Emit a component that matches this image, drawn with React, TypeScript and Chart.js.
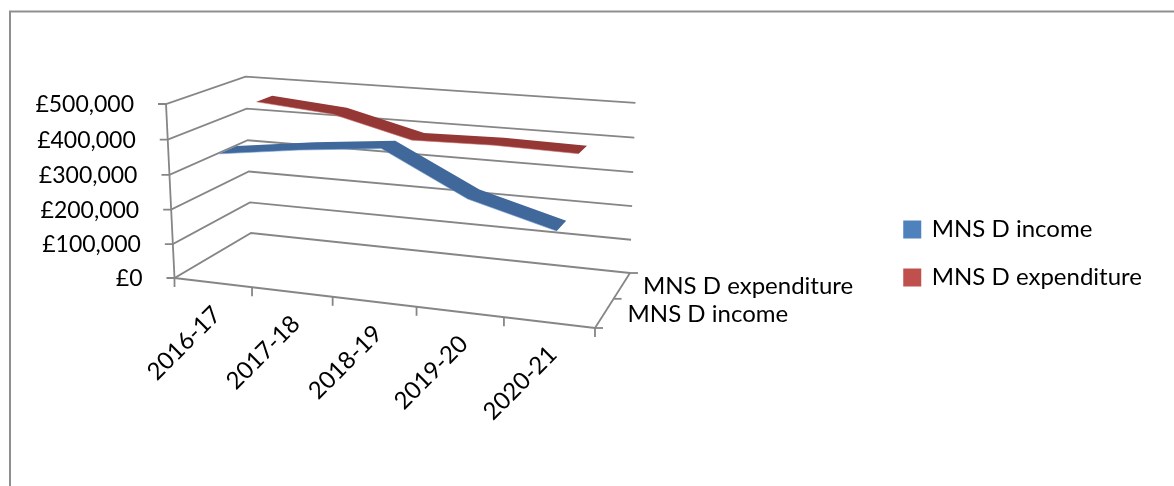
import React, { useEffect, useRef } from "react";
import { Chart, registerables } from "chart.js";

Chart.register(...registerables);

const categories = ["2016-17", "2017-18", "2018-19", "2019-20", "2020-21"];
const incomeValues = [355000, 385000, 408000, 291000, 227000];
const expenditureValues = [460000, 440000, 382000, 386000, 381000];
const seriesNames = ["MNS D income", "MNS D expenditure"];
const seriesDepths = [0.25, 0.75];
const depthTicks = [0, 0.5, 1];
const valueTicks = [0, 100000, 200000, 300000, 400000, 500000];

const FONT = "Lato, sans-serif";
const AXIS_GREY = "#868686";
const RIBBON_FILL = ["#41689b", "#943735"];
const RIBBON_EDGE = ["#6f9bd1", "#cf7a77"];
const RIBBON_HALF_DEPTH = 0.11;

// Perspective box: corners of the 3D plot in canvas space and their homogeneous weights.
const ORIGIN = { x: 174.5, y: 278 };
const X_END = { x: 595, y: 328 };
const Y_END = { x: 166, y: 104 };
const Z_END = { x: 251, y: 233 };
const WX = 0.9043;
const WY = 0.97;
const WZ = 1.1184;

function project(u: number, v: number, w: number) {
  const den = 1 + u * (WX - 1) + v * (WY - 1) + w * (WZ - 1);
  const along = (k: "x" | "y") =>
    (ORIGIN[k] +
      u * (WX * X_END[k] - ORIGIN[k]) +
      v * (WY * Y_END[k] - ORIGIN[k]) +
      w * (WZ * Z_END[k] - ORIGIN[k])) /
    den;
  return { x: along("x"), y: along("y") };
}

function segment(ctx: CanvasRenderingContext2D, a: { x: number; y: number }, b: { x: number; y: number }) {
  ctx.beginPath();
  ctx.moveTo(a.x, a.y);
  ctx.lineTo(b.x, b.y);
  ctx.stroke();
}

const perspectiveBox = {
  id: "perspectiveBox",
  beforeDatasetsDraw(chart: any) {
    const { ctx } = chart;
    const yScale = chart.scales.y;
    const area = chart.chartArea;
    const n = categories.length;
    const toV = (value: number) => (area.bottom - yScale.getPixelForValue(value)) / area.height;

    ctx.save();
    // Outer chart frame, running off the page to the right and bottom.
    ctx.strokeStyle = "#8f8f8f";
    ctx.lineWidth = 2;
    ctx.beginPath();
    ctx.moveTo(10, 487);
    ctx.lineTo(10, 11.5);
    ctx.lineTo(1175, 11.5);
    ctx.stroke();

    ctx.strokeStyle = AXIS_GREY;
    ctx.lineWidth = 1.8;
    ctx.fillStyle = "#000";
    ctx.font = `23px ${FONT}`;

    // Gridlines over the side and back walls, with value labels at the front edge.
    ctx.textAlign = "right";
    ctx.textBaseline = "middle";
    for (const tick of valueTicks) {
      const v = toV(tick);
      const front = project(0, v, 0);
      const corner = project(0, v, 1);
      const far = project(1, v, 1);
      ctx.beginPath();
      ctx.moveTo(front.x - 8, front.y);
      ctx.lineTo(front.x, front.y);
      ctx.lineTo(corner.x, corner.y);
      ctx.lineTo(far.x, far.y);
      ctx.stroke();
      ctx.fillText("£" + tick.toLocaleString("en-GB"), front.x - 32, front.y + 1);
    }

    // Vertical value axis, front floor edge and right floor edge.
    segment(ctx, project(0, 0, 0), project(0, 1, 0));
    segment(ctx, project(0, 0, 0), project(1, 0, 0));
    segment(ctx, project(1, 0, 0), project(1, 0, 1));

    // Category ticks and rotated labels.
    for (let i = 0; i <= n; i++) {
      const p = project(i / n, 0, 0);
      segment(ctx, p, { x: p.x, y: p.y + 9 });
    }
    ctx.font = `24px ${FONT}`;
    categories.forEach((label, i) => {
      const p = project((i + 0.5) / n, 0, 0);
      ctx.save();
      ctx.translate(p.x + 4, p.y + 28);
      ctx.rotate(-Math.PI / 4);
      ctx.textAlign = "right";
      ctx.textBaseline = "middle";
      ctx.fillText(label, 0, 0);
      ctx.restore();
    });

    // Depth axis ticks and series names.
    for (const w of depthTicks) {
      const p = project(1, 0, w);
      segment(ctx, p, { x: p.x + 8, y: p.y });
    }
    ctx.textAlign = "left";
    seriesNames.forEach((name, i) => {
      const p = project(1, 0, seriesDepths[i]);
      ctx.fillText(name, p.x + 23 - i * 2, p.y + 1);
    });
    ctx.restore();
  },
  // Each series is drawn as a flat ribbon lying across its depth band.
  beforeDatasetDraw(chart: any, args: any) {
    const { ctx } = chart;
    const index = args.index;
    const xScale = chart.scales.x;
    const yScale = chart.scales.y;
    const area = chart.chartArea;
    const values = chart.data.datasets[index].data as number[];
    const w = seriesDepths[index];
    const at = (i: number, depth: number) =>
      project(
        (xScale.getPixelForValue(i) - area.left) / area.width,
        (area.bottom - yScale.getPixelForValue(values[i])) / area.height,
        depth
      );
    const front = values.map((_, i) => at(i, w - RIBBON_HALF_DEPTH));
    const back = values.map((_, i) => at(i, w + RIBBON_HALF_DEPTH));
    const outline = [...front, ...back.reverse()];

    ctx.save();
    ctx.lineJoin = "round";
    ctx.fillStyle = RIBBON_FILL[index];
    ctx.beginPath();
    outline.forEach((p, i) => (i ? ctx.lineTo(p.x, p.y) : ctx.moveTo(p.x, p.y)));
    ctx.closePath();
    ctx.fill();

    // Lighter rim along the front edge of the ribbon.
    ctx.strokeStyle = RIBBON_EDGE[index];
    ctx.lineWidth = 0.6;
    ctx.beginPath();
    front.forEach((p, i) => (i ? ctx.lineTo(p.x, p.y) : ctx.moveTo(p.x, p.y)));
    ctx.stroke();
    ctx.restore();
    return false;
  },
};

export default function App() {
  const ref = useRef<HTMLCanvasElement>(null);

  useEffect(() => {
    const chart = new Chart(ref.current!, {
      type: "line",
      data: {
        labels: categories,
        datasets: [
          { label: seriesNames[0], data: incomeValues, backgroundColor: "#4f81bd", borderColor: "#4f81bd" },
          { label: seriesNames[1], data: expenditureValues, backgroundColor: "#c0504d", borderColor: "#c0504d" },
        ],
      },
      plugins: [perspectiveBox],
      options: {
        responsive: false,
        animation: false,
        devicePixelRatio: 1,
        events: [],
        layout: { padding: { top: 21, bottom: 0, left: 20, right: 22 } },
        scales: {
          x: { display: false, offset: true },
          y: { display: false, min: 0, max: 500000 },
        },
        plugins: {
          tooltip: { enabled: false },
          legend: {
            position: "right",
            labels: {
              boxWidth: 15,
              boxHeight: 15,
              padding: 24,
              color: "#000",
              font: { family: FONT, size: 24 },
            },
          },
        },
      },
    } as any);
    return () => chart.destroy();
  }, []);

  return (
    <div style={{ position: "fixed", left: 0, top: 0, background: "#fff" }}>
      <canvas ref={ref} width={1174} height={486} style={{ display: "block" }} />
    </div>
  );
}
